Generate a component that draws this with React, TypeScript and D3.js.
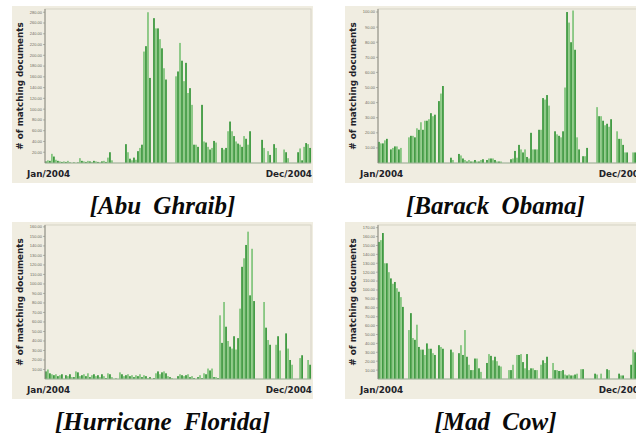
import React from "react";
import * as d3 from "d3";

// bar heights, one slot for every ~2 days of 2004
const abuGhraib = [
  3, 5, 4, 17, 12, 6, 4, 3, 2, 3, 2, 4, 1, 0, 1, 0, 1, 9, 4, 3, 2, 4, 3, 2, 4, 3, 2, 1, 3, 4, 2,
  10, 20, 5, 0, 0, 0, 0, 0, 0, 35, 20, 8, 5, 10, 6, 22, 28, 34, 207, 217, 280, 158, 0, 269, 250,
  250, 230, 213, 176, 155, 0, 0, 0, 0, 161, 170, 223, 190, 152, 186, 130, 139, 108, 34, 34, 30, 0,
  108, 40, 38, 30, 25, 28, 41, 38, 0, 0, 28, 25, 28, 59, 77, 59, 50, 40, 36, 34, 30, 50, 45, 34,
  59, 0, 0, 0, 0, 0, 43, 28, 0, 22, 15, 0, 35, 28, 0, 0, 0, 25, 20, 9, 0, 0, 0, 0, 20, 27, 5, 30,
  37, 35, 28,
];
const barackObama = [
  14, 13, 13, 15, 16, 0, 9, 10, 11, 11, 9, 10, 0, 0, 0, 17, 18, 18, 17, 23, 22, 27, 22, 28, 28, 29,
  33, 31, 32, 0, 41, 46, 51, 0, 0, 0, 3.5, 2, 0, 0, 6, 5, 3, 2, 1, 2, 1, 1, 2, 1, 1, 2, 2.5, 0, 2,
  3, 3, 3, 2, 1, 1, 1, 0, 0, 0, 0, 2.5, 3, 8, 3.5, 12, 9, 7, 9, 4, 3, 20, 9, 9, 9, 22, 22, 43, 42,
  45, 38, 0, 0, 21, 19, 18, 17, 21, 50, 100, 93, 80, 101, 75, 17, 9, 0, 4.5, 4.5, 10, 0, 0, 0, 0,
  37, 31, 31, 28, 25, 26, 24, 29, 0, 0, 21, 16, 16, 12, 7, 7, 0, 0, 7, 7, 5, 8, 4, 6,
];
const hurricaneFlorida = [
  8, 10, 6, 5, 4, 5, 3, 4, 5, 0, 4, 3, 5, 2, 2, 8, 7, 3, 4, 5, 3, 6, 2, 4, 5, 3, 4, 2, 5, 3, 1,
  6, 5, 2, 0, 1, 0, 7, 5, 3, 4, 5, 3, 4, 2, 4, 3, 5, 2, 4, 3, 1, 2, 0, 1, 6, 8, 5, 7, 8, 6, 3, 2,
  1, 0, 0, 3, 5, 4, 3, 4, 5, 2, 3, 1, 0, 2, 4, 1, 6, 5, 11, 9, 11, 2, 2, 1, 67, 38, 81, 55, 40, 34,
  32, 45, 31, 43, 74, 118, 127, 141, 155, 88, 137, 82, 0, 0, 0, 0, 81, 54, 41, 36, 0, 0, 36, 45,
  30, 0, 0, 48, 32, 20, 15, 0, 0, 0, 22, 25, 0, 0, 20, 15,
];
const madCow = [
  154, 156, 164, 130, 130, 120, 113, 107, 109, 102, 98, 92, 81, 0, 0, 55, 74, 46, 44, 61, 36, 33,
  33, 27, 40, 34, 34, 29, 27, 0, 38, 36, 34, 0, 0, 0, 33, 30, 0, 0, 29, 38, 27, 55, 25, 16, 10, 10,
  23, 23, 12, 8, 0, 0, 18, 28, 26, 21, 25, 20, 15, 14, 0, 0, 0, 10, 10, 16, 0, 27, 27, 28, 19, 12,
  28, 10, 12, 12, 10, 10, 0, 16, 21, 18, 25, 0, 0, 18, 10, 10, 9, 9, 10, 5, 4, 5, 4, 4, 5, 6, 0,
  11, 11, 0, 0, 0, 0, 0, 6, 5, 0, 6, 0, 0, 11, 10, 0, 0, 0, 0, 6, 4, 4, 0, 0, 0, 16, 33, 30, 20,
  25, 15, 10,
];

const abuTicks = [20, 40, 60, 80, 100, 120, 140, 160, 180, 200, 220, 240, 260, 280];
const obamaTicks = [10, 20, 30, 40, 50, 60, 70, 80, 90, 100];
const hurricaneTicks = [10, 20, 30, 40, 50, 60, 70, 80, 90, 100, 110, 120, 130, 140, 150, 160];
const madCowTicks = [10, 20, 30, 40, 50, 60, 70, 80, 90, 100, 110, 120, 130, 140, 150, 160, 170];

const startLabel = "Jan/2004";
const endLabel = "Dec/2004";

const panelW = 301;
const panelH = 177;
const plotLeft = 33;
const plotTop = 3;
const plotW = 266;
const plotH = 154;

type PanelProps = {
  x: number;
  y: number;
  values: number[];
  maxY: number;
  ticks: number[];
  title: string;
};

const Panel = ({ x, y, values, maxY, ticks, title }: PanelProps) => {
  const xs = d3
    .scaleBand<number>()
    .domain(values.map((_, i) => i))
    .range([0, plotW])
    .paddingInner(0.1);
  const ys = d3.scaleLinear().domain([0, maxY]).range([plotH, 0]);

  return (
    <g>
      <rect x={x} y={y} width={panelW} height={panelH} fill="#f0ede1" />
      <g transform={`translate(${x + plotLeft},${y + plotTop})`}>
        <rect width={plotW} height={plotH} fill="#f1eee3" stroke="#d6d3c6" strokeWidth={1} />
        {values.map((v, i) =>
          v > 0 ? (
            <rect
              key={i}
              x={xs(i)}
              y={ys(v)}
              width={xs.bandwidth()}
              height={plotH - ys(v)}
              fill={i % 2 === 0 ? "#3f9a41" : "#86c680"}
            />
          ) : null
        )}
        <line x1={0} x2={plotW} y1={plotH} y2={plotH} stroke="#9fb59a" />
        <line x1={0} x2={0} y1={0} y2={plotH} stroke="#8a8a80" />
        {ticks.map((t) => (
          <g key={t} transform={`translate(0,${ys(t)})`}>
            <line x1={-2} x2={0} stroke="#8a8a80" strokeWidth={0.6} />
            <text
              x={-3}
              dy="0.35em"
              textAnchor="end"
              fontSize={4}
              fill="#6a6a60"
              fontFamily="Arial, Liberation Sans, sans-serif"
            >
              {t.toFixed(2)}
            </text>
          </g>
        ))}
        <text
          transform={`translate(-22,${plotH / 2}) rotate(-90)`}
          textAnchor="middle"
          fontSize={8.8}
          fontWeight="bold"
          fill="#222228"
          fontFamily="DejaVu Sans, sans-serif"
        >
          # of matching documents
        </text>
        <text
          x={-18}
          y={plotH + 14}
          fontSize={8.8}
          fontWeight="bold"
          fill="#222228"
          fontFamily="DejaVu Sans, sans-serif"
        >
          {startLabel}
        </text>
        <text
          x={plotW + 1}
          y={plotH + 14}
          textAnchor="end"
          fontSize={8.8}
          fontWeight="bold"
          fill="#222228"
          fontFamily="DejaVu Sans, sans-serif"
        >
          {endLabel}
        </text>
      </g>
      <text
        x={x + panelW / 2}
        y={y + panelH + 31}
        textAnchor="middle"
        fontSize={25}
        fontWeight="bold"
        fontStyle="italic"
        fill="#0a0a0a"
        fontFamily="Liberation Serif, Times New Roman, serif"
        style={{ wordSpacing: "6px" }}
      >
        {title}
      </text>
    </g>
  );
};

export default function App() {
  return (
    <svg
      width={636}
      height={434}
      style={{ position: "absolute", left: 0, top: 0, background: "#fff" }}
    >
      <Panel x={12} y={6} values={abuGhraib} maxY={286} ticks={abuTicks} title="[Abu Ghraib]" />
      <Panel x={345} y={6} values={barackObama} maxY={102} ticks={obamaTicks} title="[Barack Obama]" />
      <Panel
        x={12}
        y={222}
        values={hurricaneFlorida}
        maxY={162}
        ticks={hurricaneTicks}
        title="[Hurricane Florida]"
      />
      <Panel x={345} y={222} values={madCow} maxY={173} ticks={madCowTicks} title="[Mad Cow]" />
    </svg>
  );
}
